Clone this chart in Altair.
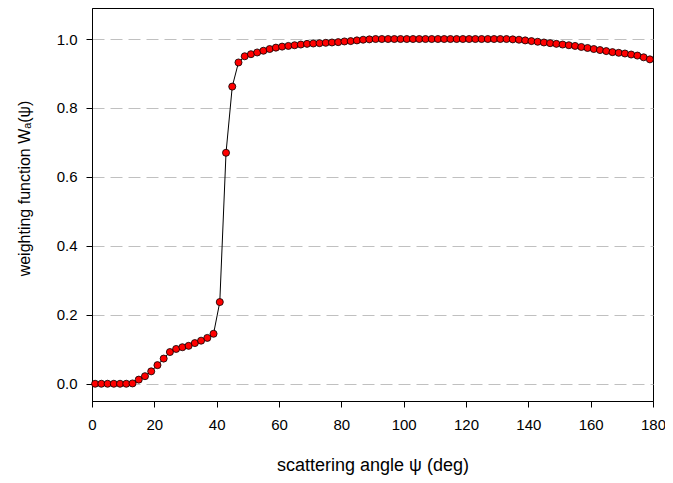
import altair as alt
import pandas as pd

angles = list(range(1, 180, 2))
weights = [
    0.0, 0.0, 0.0, 0.0, 0.0, 0.0, 0.001,            # 1..13
    0.012, 0.022, 0.036, 0.054, 0.073, 0.092,       # 15..25
    0.101, 0.106, 0.110, 0.118, 0.125, 0.133, 0.145, # 27..39
    0.237, 0.670, 0.862, 0.932,                     # 41..47
    0.950, 0.956, 0.961, 0.966, 0.971, 0.975, 0.978, # 49..61
    0.980, 0.982, 0.984, 0.986, 0.987, 0.988, 0.989, # 63..75
    0.990, 0.991, 0.993, 0.994, 0.996, 0.998, 0.999, # 77..89
    1.0, 1.0, 1.0, 1.0, 1.0, 1.0, 1.0, 1.0, 1.0, 1.0, 1.0,  # 91..111
    1.0, 1.0, 1.0, 1.0, 1.0, 1.0, 1.0, 1.0, 1.0, 1.0, 1.0,  # 113..133
    0.999, 0.998, 0.996, 0.994, 0.992, 0.990, 0.988, 0.986, # 135..149
    0.984, 0.982, 0.980, 0.977, 0.974, 0.971, 0.968, 0.965, # 151..165
    0.962, 0.960, 0.958, 0.955, 0.952, 0.947, 0.941,        # 167..179
]

df = pd.DataFrame({"angle": angles, "w": weights})

FONT = "Liberation Sans"

x = alt.X(
    "angle:Q",
    scale=alt.Scale(domain=[0, 180], nice=False, zero=False),
    axis=alt.Axis(
        title="scattering angle ψ (deg)",
        values=list(range(0, 181, 20)),
        grid=False,
        tickSize=6,
        labelPadding=10,
        labelFlush=False,
        titlePadding=24,
        titleFontSize=18,
    ),
)
y = alt.Y(
    "w:Q",
    scale=alt.Scale(domain=[-0.05, 1.09], nice=False, zero=False),
    axis=alt.Axis(
        title="weighting function Wₐ(ψ)",
        values=[0.0, 0.2, 0.4, 0.6, 0.8, 1.0],
        format=".1f",
        grid=True,
        gridColor="#c0c0c0",
        gridDash=[12, 6],
        gridWidth=1,
        tickSize=6,
        labelPadding=9,
        labelFlush=False,
        titleFontSize=16,
        titleX=-68,
        titleY=180,
        titleAlign="center",
        titleBaseline="middle",
        titleAngle=270,
    ),
)

base = alt.Chart(df)
line = base.mark_line(color="black", strokeWidth=1).encode(x=x, y=y)
pts = base.mark_point(
    shape="circle", filled=True, fill="#ff0000", stroke="black",
    strokeWidth=0.8, size=50, opacity=1,
).encode(x="angle:Q", y="w:Q")

chart = (
    alt.layer(line, pts)
    .properties(
        width=561,
        height=393,
        autosize=alt.AutoSizeParams(type="none"),
        padding={"left": 84, "top": 0, "right": 12, "bottom": 74},
    )
    .configure_view(stroke="black", strokeWidth=1)
    .configure_axis(
        domainColor="black",
        tickColor="black",
        labelColor="black",
        titleColor="black",
        labelFont=FONT,
        titleFont=FONT,
        labelFontSize=15,
        titleFontWeight="normal",
    )
)

chart.save("out.html", embed_options={"renderer": "svg", "actions": False})
